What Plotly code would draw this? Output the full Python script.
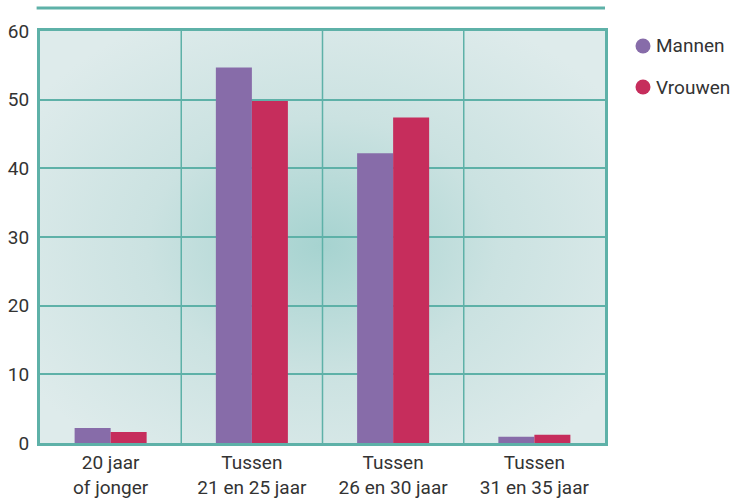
import plotly.graph_objects as go

categories = ["20 jaar<br>of jonger", "Tussen<br>21 en 25 jaar", "Tussen<br>26 en 30 jaar", "Tussen<br>31 en 35 jaar"]
mannen = [2.2, 54.7, 42.2, 0.9]
vrouwen = [1.6, 49.8, 47.4, 1.2]
y_ticks = [0, 10, 20, 30, 40, 50, 60]
series_names = ["Mannen", "Vrouwen"]

PURPLE = "#876ca9"
RED = "#c62d5c"
TEAL = "#5eb1a8"
FONT = "Roboto, sans-serif"

W, H = 565, 412
L, T = 40, 31

svg = ("data:image/svg+xml;utf8,"
       "<svg xmlns='http://www.w3.org/2000/svg' width='565' height='412'>"
       "<defs><radialGradient id='g' cx='50%' cy='52%' r='62%'>"
       "<stop offset='0%' stop-color='%23a6d3d0'/>"
       "<stop offset='50%' stop-color='%23cbe2e1'/>"
       "<stop offset='100%' stop-color='%23deebeb'/>"
       "</radialGradient></defs>"
       "<rect width='565' height='412' fill='url(%23g)'/></svg>")

fig = go.Figure()
fig.add_trace(go.Bar(x=categories, y=mannen, name=series_names[0], marker_color=PURPLE,
                     marker_line_width=0, showlegend=False))
fig.add_trace(go.Bar(x=categories, y=vrouwen, name=series_names[1], marker_color=RED,
                     marker_line_width=0, showlegend=False))

for xb in [0.5, 1.5, 2.5]:
    fig.add_shape(type="line", xref="x", yref="paper", x0=xb, x1=xb, y0=0, y1=1,
                  line=dict(color=TEAL, width=1.5), layer="below")

fig.add_shape(type="line", xref="paper", yref="paper", x0=-0.006, x1=1.0,
              y0=(443 - 8) / H, y1=(443 - 8) / H, line=dict(color=TEAL, width=3))

fig.add_layout_image(dict(source=svg, xref="paper", yref="paper", x=0, y=1,
                          sizex=1, sizey=1, sizing="stretch", layer="below",
                          xanchor="left", yanchor="top"))

# legend built from circles + text
for name, color, py in [(series_names[0], PURPLE, 46), (series_names[1], RED, 87)]:
    yp = (443 - py) / H
    fig.add_shape(type="circle", xref="paper", yref="paper",
                  xsizemode="pixel", ysizemode="pixel",
                  xanchor=(643 - L) / W, yanchor=yp,
                  x0=-7.5, x1=7.5, y0=-7.5, y1=7.5,
                  fillcolor=color, line=dict(width=0))
    fig.add_annotation(text=name, xref="paper", yref="paper",
                       x=(654 - L) / W, y=yp, xanchor="left", yanchor="middle",
                       showarrow=False, font=dict(size=19, color="#333333"))

fig.update_layout(
    width=733, height=499,
    margin=dict(l=L, r=733 - L - W, t=T, b=499 - T - H),
    paper_bgcolor="white",
    plot_bgcolor="rgba(0,0,0,0)",
    barmode="group",
    bargap=0.49,
    bargroupgap=0,
    showlegend=False,
    font=dict(family=FONT, size=18, color="#333333"),
    xaxis=dict(showgrid=False, showline=True, linecolor=TEAL, linewidth=3,
               mirror=True, ticks="", tickfont=dict(size=19), range=[-0.5, 3.5],
               automargin=False),
    yaxis=dict(range=[0, 60], tickvals=y_ticks, showgrid=True, gridcolor=TEAL,
               gridwidth=1.5, showline=True, linecolor=TEAL, linewidth=3,
               mirror=True, ticks="", zeroline=False, tickfont=dict(size=19),
               ticklabelstandoff=4, automargin=False),
)

fig.write_html("out.html", config={"displayModeBar": False},
               post_script="document.body.style.margin='0';")
